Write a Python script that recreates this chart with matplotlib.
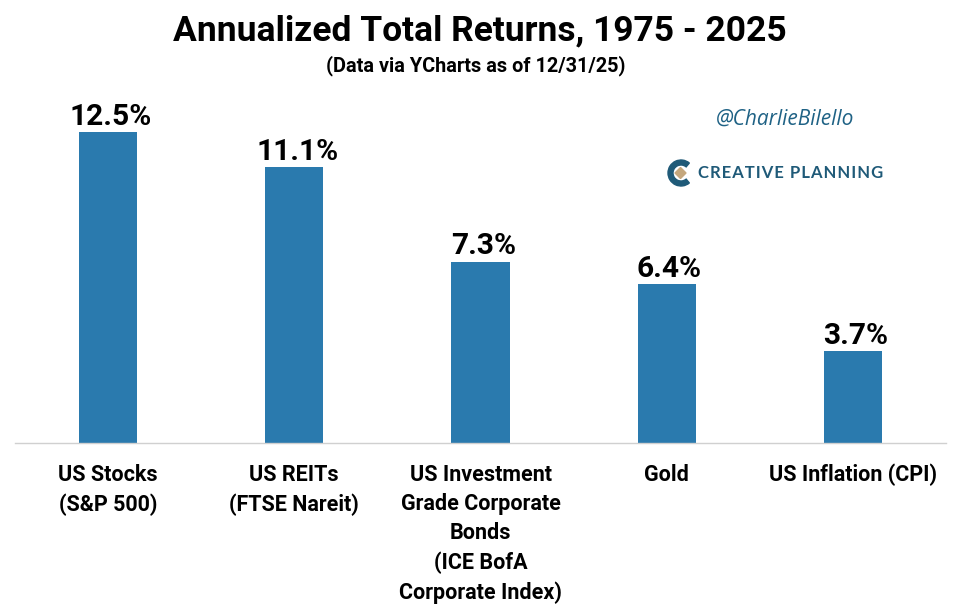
import matplotlib
matplotlib.use("Agg")
import matplotlib.pyplot as plt
from matplotlib.patches import Polygon, Wedge

categories = ["US Stocks\n(S&P 500)", "US REITs\n(FTSE Nareit)",
              "US Investment\nGrade Corporate\nBonds\n(ICE BofA\nCorporate Index)",
              "Gold", "US Inflation (CPI)"]
returns = [12.5, 11.1, 7.3, 6.4, 3.7]
value_labels = ["12.5%", "11.1%", "7.3%", "6.4%", "3.7%"]

W, H = 961, 613
plt.rcParams['font.family'] = ['Roboto', 'DejaVu Sans']

fig = plt.figure(figsize=(W / 100, H / 100), dpi=100)
# axis spans x 15..946, baseline at y=443 px
ax = fig.add_axes([15 / W, 1 - 443 / H, 931 / W, 343 / H])
bars = ax.bar(range(len(returns)), returns, width=0.3125, color="#2a7aae")
ax.set_xlim(-0.5, 4.5)
ax.set_ylim(0, 13.8)
ax.set_yticks([])
ax.set_xticks(range(len(returns)))
ax.set_xticklabels(categories, fontsize=15.5, fontweight='bold', linespacing=1.42)
ax.tick_params(axis='x', length=0, pad=15)
for s in ['top', 'left', 'right']:
    ax.spines[s].set_visible(False)
ax.spines['bottom'].set_color("#d0d0d0")
ax.spines['bottom'].set_linewidth(1)

for b, lab in zip(bars, value_labels):
    ax.annotate(lab, (b.get_x() + b.get_width() / 2, b.get_height()), xytext=(2, 1),
                textcoords='offset points', ha='center', va='bottom',
                fontsize=21.5, fontweight='bold')

fig.text(480 / W, 1 - 31 / H, "Annualized Total Returns, 1975 - 2025", ha='center', va='center',
         fontsize=25.5, fontweight='bold')
fig.text(476 / W, 1 - 66 / H, "(Data via YCharts as of 12/31/25)", ha='center', va='center',
         fontsize=14.3, fontweight='bold')
fig.text(785 / W, 1 - 119 / H, "@CharlieBilello", ha='center', va='center', fontsize=15,
         style='italic', color="#1f6285", family=['Open Sans', 'DejaVu Sans'])
# hair spaces give the wide tracking of the logo lettering
logo_text = "\u200a".join("CREATIVE PLANNING")
fig.text(790.5 / W, 1 - 173 / H, logo_text, ha='center', va='center', fontsize=12,
         fontweight='bold', color="#1f5a78", family=['Lato', 'DejaVu Sans'])

# logo mark, in pixel coordinates
logo = fig.add_axes([0, 0, 1, 1], facecolor='none')
logo.set_xlim(0, W)
logo.set_ylim(H, 0)
logo.axis('off')
logo.add_patch(Wedge((681, 173), 13, 50, 310, width=5, color="#1f5a78"))
logo.add_patch(Polygon([(680.5, 167.5), (686, 173), (680.5, 178.5), (675, 173)], color="#c4a77d"))

fig.savefig("out.png", dpi=100)
